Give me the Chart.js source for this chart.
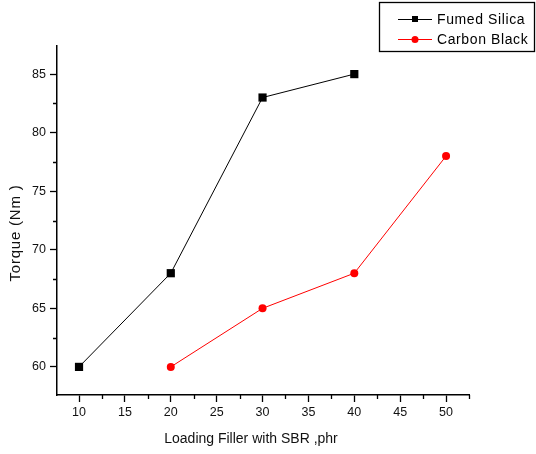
<!DOCTYPE html>
<html>
<head>
<meta charset="utf-8">
<script src="https://cdn.jsdelivr.net/npm/chart.js@4/dist/chart.umd.min.js"></script>
<style>
html,body{margin:0;padding:0;background:#fff;}
#c{display:block;}
</style>
</head>
<body>
<canvas id="c" width="536" height="454"></canvas>
<script>
// ---- data ----
const seriesNames = ["Fumed Silica", "Carbon Black"];
const silicaX = [10, 20, 30, 40];
const silicaY = [60, 68, 83, 85];
const carbonX = [20, 30, 40, 50];
const carbonY = [60, 65, 68, 78];
const xTicks = [10, 15, 20, 25, 30, 35, 40, 45, 50];
const xMinorTicks = [7.5, 12.5, 17.5, 22.5, 27.5, 32.5, 37.5, 42.5, 47.5, 52.5];
const yTicks = [60, 65, 70, 75, 80, 85];
const yMinorTicks = [57.5, 62.5, 67.5, 72.5, 77.5, 82.5, 87.5];
const xTitle = "Loading Filler with SBR ,phr";
const yTitle = "Torque (Nm )";

const FONT = "'Liberation Sans', Arial, sans-serif";

const toPts = (xs, ys) => xs.map((x, i) => ({x: x, y: ys[i]}));

const extras = {
  id: 'extras',
  afterDraw(chart) {
    const ctx = chart.ctx;
    const xs = chart.scales.x, ys = chart.scales.y;
    const a = chart.chartArea;
    ctx.save();
    ctx.strokeStyle = '#000';
    ctx.lineWidth = 1.3;
    // minor ticks
    ctx.beginPath();
    xMinorTicks.forEach(v => {
      if (v < xs.min || v > xs.max) return;
      const px = Math.round(xs.getPixelForValue(v)) + 0.5;
      ctx.moveTo(px, a.bottom); ctx.lineTo(px, a.bottom + 4);
    });
    yMinorTicks.forEach(v => {
      if (v < ys.min || v > ys.max) return;
      const py = Math.round(ys.getPixelForValue(v)) + 0.5;
      ctx.moveTo(a.left, py); ctx.lineTo(a.left - 4, py);
    });
    ctx.stroke();
    // axis titles
    ctx.fillStyle = '#111';
    ctx.font = '14px ' + FONT;
    ctx.textAlign = 'center';
    ctx.textBaseline = 'middle';
    ctx.fillText(xTitle, 251, 439);
    ctx.save();
    ctx.translate(16, 233);
    ctx.rotate(-Math.PI / 2);
    ctx.font = '15px ' + FONT;
    try { ctx.letterSpacing = '0.8px'; } catch (e) {}
    ctx.fillText(yTitle, 0, 0);
    try { ctx.letterSpacing = '0px'; } catch (e) {}
    ctx.restore();
    // legend
    ctx.lineWidth = 1.3;
    ctx.strokeStyle = '#000';
    ctx.strokeRect(379.5, 2.5, 155, 49);
    const rows = [19, 39];
    chart.data.datasets.forEach((ds, i) => {
      const y = rows[i];
      ctx.strokeStyle = ds.borderColor;
      ctx.lineWidth = 1;
      ctx.beginPath();
      ctx.moveTo(398, y + 0.5); ctx.lineTo(432, y + 0.5);
      ctx.stroke();
      ctx.fillStyle = ds.pointBackgroundColor;
      if (ds.pointStyle === 'rect') {
        ctx.fillRect(412, y - 3, 6, 6);
      } else {
        ctx.beginPath(); ctx.arc(415, y + 0.5, 3.5, 0, Math.PI * 2); ctx.fill();
      }
      ctx.fillStyle = '#000';
      ctx.font = '14px ' + FONT;
      ctx.textAlign = 'left';
      ctx.textBaseline = 'middle';
      try { ctx.letterSpacing = '0.6px'; } catch (e) {}
      ctx.fillText(ds.label, 437, y + 1);
      try { ctx.letterSpacing = '0px'; } catch (e) {}
    });
    ctx.restore();
  }
};

new Chart(document.getElementById('c'), {
  type: 'scatter',
  data: {
    datasets: [
      {
        label: seriesNames[0],
        data: toPts(silicaX, silicaY),
        showLine: true,
        borderColor: '#000',
        borderWidth: 1,
        pointStyle: 'rect',
        pointRadius: 5.8,
        pointBackgroundColor: '#000',
        pointBorderColor: '#000',
        pointBorderWidth: 0,
        tension: 0
      },
      {
        label: seriesNames[1],
        data: toPts(carbonX, carbonY),
        showLine: true,
        borderColor: '#ff0000',
        borderWidth: 1,
        pointStyle: 'circle',
        pointRadius: 4,
        pointBackgroundColor: '#ff0000',
        pointBorderColor: '#ff0000',
        pointBorderWidth: 0,
        tension: 0
      }
    ]
  },
  options: {
    responsive: false,
    animation: false,
    devicePixelRatio: 1,
    layout: { padding: { left: 0, top: 46, right: 67, bottom: 0 } },
    plugins: { legend: { display: false }, tooltip: { enabled: false } },
    scales: {
      x: {
        type: 'linear',
        min: 7.6,
        max: 52.5,
        afterBuildTicks: s => { s.ticks = xTicks.map(v => ({value: v})); },
        afterFit: s => { s.height = 59; },
        grid: { drawOnChartArea: false, drawTicks: true, tickLength: 7, tickWidth: 1.3, color: '#000', tickColor: '#000' },
        border: { display: true, color: '#000', width: 1.5 },
        ticks: { color: '#111', font: { family: FONT, size: 12.5 }, padding: 3, maxRotation: 0, autoSkip: false }
      },
      y: {
        type: 'linear',
        min: 57.6,
        max: 87.4,
        afterBuildTicks: s => { s.ticks = yTicks.map(v => ({value: v})); },
        afterFit: s => { s.width = 57; },
        grid: { drawOnChartArea: false, drawTicks: true, tickLength: 7, tickWidth: 1.3, color: '#000', tickColor: '#000' },
        border: { display: true, color: '#000', width: 1.5 },
        ticks: { color: '#111', font: { family: FONT, size: 12.5 }, padding: 4, autoSkip: false }
      }
    }
  },
  plugins: [extras]
});
</script>
</body>
</html>
